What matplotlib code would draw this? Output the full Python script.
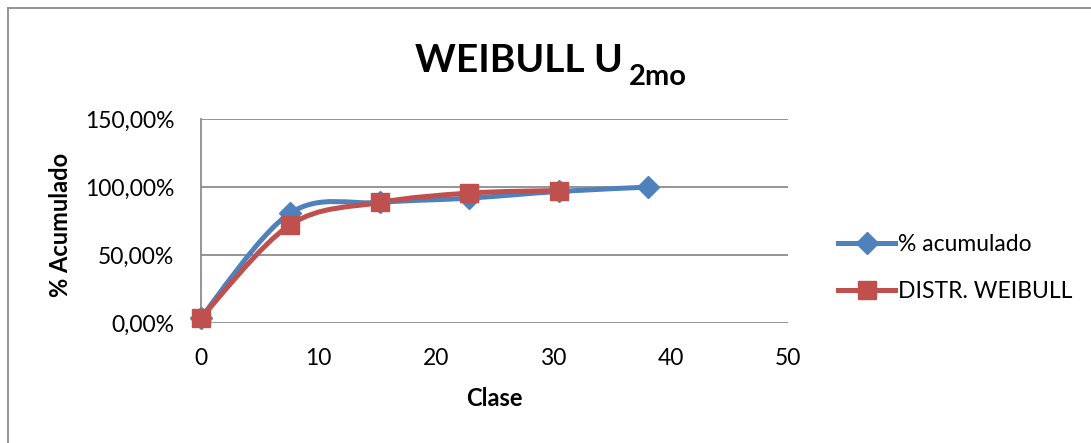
import matplotlib
matplotlib.use("Agg")
import matplotlib.pyplot as plt
from matplotlib.path import Path
from matplotlib.patches import PathPatch
from matplotlib.lines import Line2D
from matplotlib.ticker import FuncFormatter, MultipleLocator
import numpy as np

# Data
clase = [0.0, 7.62, 15.24, 22.86, 30.48, 38.1]
acumulado = [0.04, 0.809, 0.887, 0.919, 0.968, 1.00]
clase_weibull = [0.0, 7.62, 15.24, 22.86, 30.48]
weibull = [0.037, 0.723, 0.887, 0.956, 0.975]

series_names = ["% acumulado", "DISTR. WEIBULL"]
title_main = "WEIBULL U"
title_sub = "2mo"
x_label = "Clase"
y_label = "% Acumulado"

BLUE = "#4F81BD"
RED = "#C0504D"
GRID = "#8C8C8C"
FONT = "Lato"
FS = 16.5

plt.rcParams["font.family"] = [FONT, "DejaVu Sans"]

W, H, DPI = 1091, 443, 100
fig = plt.figure(figsize=(W / DPI, H / DPI), dpi=DPI)
fig.patch.set_facecolor("white")

ax = fig.add_axes([200.7 / W, 1 - 323.3 / H, (788 - 200.7) / W, (323.3 - 119) / H])
ax.set_xlim(0, 50)
ax.set_ylim(0, 1.5)


def smooth_path(xs, ys):
    """Catmull-Rom style Bezier path through the points."""
    pts = np.column_stack([xs, ys])
    n = len(pts)
    verts = [pts[0]]
    codes = [Path.MOVETO]
    for i in range(n - 1):
        p0 = pts[i - 1] if i > 0 else pts[i]
        p1 = pts[i]
        p2 = pts[i + 1]
        p3 = pts[i + 2] if i + 2 < n else pts[i + 1]
        c1 = p1 + (p2 - p0) / 6.0
        c2 = p2 - (p3 - p1) / 6.0
        verts += [c1, c2, p2]
        codes += [Path.CURVE4] * 3
    return Path(verts, codes)


lw = 3.6
for xs, ys, color, marker, ms in [
    (clase, acumulado, BLUE, "D", 11),
    (clase_weibull, weibull, RED, "s", 12.5),
]:
    patch = PathPatch(smooth_path(xs, ys), facecolor="none", edgecolor=color,
                      lw=lw, capstyle="round", joinstyle="round", zorder=3)
    ax.add_patch(patch)
    ax.plot(xs, ys, linestyle="none", marker=marker, markersize=ms,
            color=color, markeredgecolor=color, zorder=4, clip_on=False)

# Axes styling
ax.yaxis.set_major_locator(MultipleLocator(0.5))
ax.xaxis.set_major_locator(MultipleLocator(10))
ax.yaxis.set_major_formatter(FuncFormatter(lambda v, p: f"{v*100:.2f}".replace(".", ",") + "%"))
ax.grid(axis="y", color=GRID, lw=1.3, zorder=1)
ax.set_axisbelow(True)
for s in ["top", "right", "bottom"]:
    ax.spines[s].set_visible(False)
ax.spines["left"].set_color(GRID)
ax.spines["left"].set_linewidth(1.3)
ax.tick_params(axis="both", length=0, labelsize=FS, colors="black")
ax.tick_params(axis="y", pad=19)
ax.tick_params(axis="x", pad=18)

fig.text(60 / W, 1 - 225 / H, y_label, rotation=90, ha="center", va="center",
         fontsize=17, fontweight="bold")
fig.text(494 / W, 1 - 399 / H, x_label, ha="center", va="center",
         fontsize=17, fontweight="bold")

# Title with subscript
t_main = fig.text(415 / W, 1 - 72 / H, title_main, ha="left", va="baseline",
                  fontsize=28, fontweight="bold")
fig.canvas.draw()
bb = t_main.get_window_extent()
fig.text((bb.x1 + 6) / W, 1 - 85 / H, title_sub, ha="left", va="baseline",
         fontsize=21, fontweight="bold")

# Legend
handles = [
    Line2D([], [], color=BLUE, lw=lw, marker="D", markersize=11),
    Line2D([], [], color=RED, lw=lw, marker="s", markersize=12.5),
]
leg = fig.legend(handles, series_names, loc="center left",
                 bbox_to_anchor=(838 / W, 1 - 268 / H), frameon=False,
                 fontsize=FS, handlelength=2.5, handletextpad=0.12,
                 labelspacing=1.15, borderpad=0, borderaxespad=0)

# Chart frame (left and top edges)
fig.add_artist(Line2D([7.5 / W, 7.5 / W], [0, 1 - 7.5 / H], color=GRID, lw=1.3,
                      transform=fig.transFigure))
fig.add_artist(Line2D([7.5 / W, 1], [1 - 7.5 / H, 1 - 7.5 / H], color=GRID, lw=1.3,
                      transform=fig.transFigure))

fig.savefig("out.png", dpi=DPI, facecolor="white")
